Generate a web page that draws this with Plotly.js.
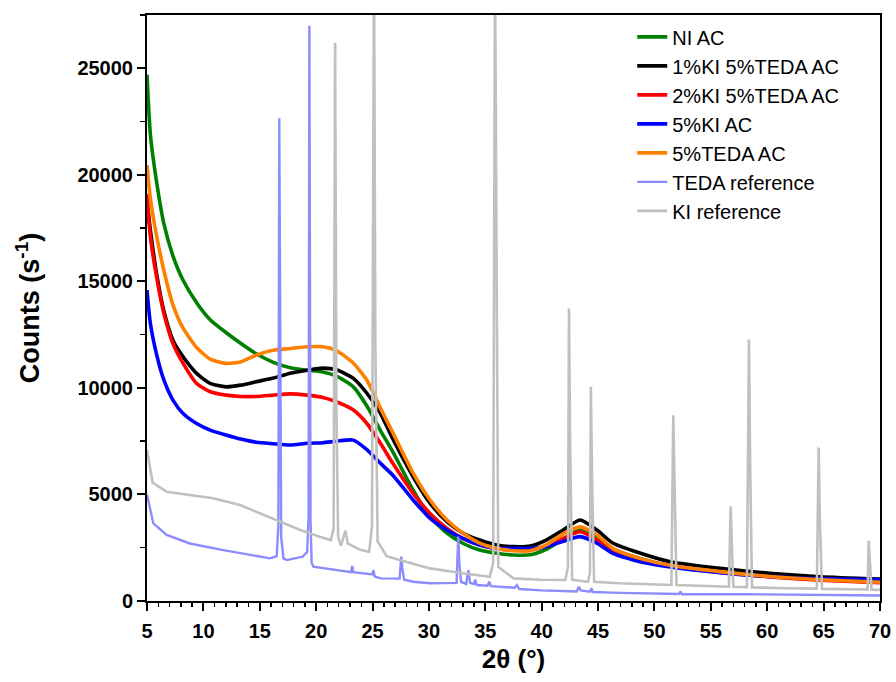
<!DOCTYPE html>
<html>
<head>
<meta charset="utf-8">
<script src="https://cdn.plot.ly/plotly-3.0.1.min.js"></script>
<style>html,body{margin:0;padding:0;background:#fff;}#chart{width:896px;height:682px;}</style>
</head>
<body>
<div id="chart"></div>
<script>
// ---- Data ----
const acX = [5, 5.3, 5.9, 6.5, 7.3, 8.2, 9.4, 10.6, 12, 13.3, 14.7, 16.2, 17.7, 19.2, 20.6, 21.8, 23.3, 24.5, 25.7, 26.8, 28.6, 30.1, 31.6, 33, 34.5, 36, 37.5, 39, 40.4, 41.9, 43.4, 44.9, 46.3, 48.7, 51.4, 55.8, 60.2, 64.7, 70];

const niAC = [24700, 21900, 19500, 17700, 16200, 15050, 14000, 13200, 12600, 12100, 11600, 11200, 10950, 10830, 10750, 10550, 10050, 9150, 8000, 7000, 5200, 3950, 3190, 2710, 2390, 2240, 2160, 2170, 2420, 2900, 3350, 3000, 2450, 2000, 1650, 1350, 1150, 1000, 880];

const ki1teda5 = [18800, 17400, 15200, 13600, 12240, 11460, 10680, 10210, 10050, 10130, 10290, 10460, 10690, 10830, 10930, 10850, 10450, 9750, 8810, 7600, 5830, 4590, 3720, 3190, 2860, 2630, 2550, 2580, 2860, 3330, 3800, 3330, 2720, 2250, 1840, 1530, 1300, 1140, 1030];

const ki2teda5 = [19100, 17090, 15050, 13490, 12080, 11150, 10210, 9820, 9660, 9600, 9600, 9660, 9720, 9660, 9550, 9350, 8960, 8330, 7400, 6460, 5050, 4110, 3410, 2940, 2630, 2470, 2390, 2390, 2580, 2940, 3250, 2860, 2310, 1920, 1640, 1350, 1130, 980, 860];

const ki5 = [14590, 13020, 11460, 10360, 9430, 8800, 8330, 8020, 7790, 7600, 7450, 7380, 7320, 7400, 7430, 7500, 7550, 7100, 6460, 5900, 4740, 3880, 3330, 2940, 2630, 2470, 2470, 2470, 2550, 2800, 3020, 2710, 2240, 1840, 1600, 1330, 1150, 1050, 1000];

const teda5 = [20450, 18900, 17000, 15500, 13900, 12800, 11900, 11350, 11150, 11220, 11540, 11770, 11850, 11930, 11930, 11750, 11160, 10360, 9050, 7900, 6000, 4740, 3800, 3190, 2720, 2470, 2360, 2360, 2630, 3150, 3480, 3100, 2470, 2000, 1680, 1380, 1150, 1000, 880];

const tedaRefX = [5, 5.56, 6.75, 8.8, 11.77, 14.1, 15.9, 16.5, 16.65, 16.73, 16.82, 16.9, 17.1, 17.4, 18.8, 19.2, 19.33, 19.4, 19.5, 19.6, 19.75, 22.1, 23.1, 23.2, 23.3, 25.0, 25.07, 25.2, 25.7, 27.4, 27.55, 27.65, 27.8, 28.6, 30.1, 32.45, 32.6, 32.7, 32.85, 33.3, 33.5, 33.65, 34.0, 34.1, 34.25, 35.2, 35.35, 35.5, 37.6, 37.8, 38.0, 40, 43.1, 43.3, 43.45, 44.3, 44.4, 44.55, 46.9, 52.2, 52.3, 52.45, 58, 70];
const tedaRef = [5000, 3640, 3100, 2700, 2390, 2160, 2000, 2100, 3500, 22650, 9100, 3000, 2000, 1920, 2080, 2300, 4000, 27000, 3800, 1800, 1610, 1450, 1350, 1650, 1350, 1250, 1450, 1150, 1060, 1050, 2080, 1500, 1000, 905, 830, 850, 3020, 1770, 900, 800, 1450, 850, 800, 1000, 750, 720, 905, 700, 620, 750, 560, 500, 450, 670, 500, 440, 600, 420, 380, 330, 440, 320, 320, 260];

const kiRefX = [5, 5.5, 6.75, 8.8, 10.85, 13.25, 15, 16.8, 18.6, 20.3, 21.3, 21.55, 21.68, 21.8, 21.95, 22.2, 22.6, 22.8, 23.9, 24.7, 24.95, 25.13, 25.25, 25.45, 26.25, 27.4, 30.1, 33, 35.4, 35.7, 35.86, 35.98, 36.15, 37.5, 39.9, 42.1, 42.33, 42.42, 42.52, 42.7, 44.1, 44.28, 44.36, 44.47, 44.65, 46.9, 51.5, 51.67, 51.8, 51.95, 56.6, 56.76, 56.86, 57.0, 58.2, 58.38, 58.48, 58.65, 61.7, 64.4, 64.56, 64.66, 64.85, 67.6, 68.9, 69.0, 69.1, 69.25, 70];
const kiRef = [7100, 5550, 5130, 4970, 4820, 4500, 4110, 3720, 3330, 3020, 2860, 3400, 26200, 9000, 3000, 2600, 3300, 2700, 2400, 2300, 3500, 30000, 12000, 2800, 2100, 1920, 1530, 1300, 1140, 1800, 30000, 18000, 1600, 1060, 1000, 985, 1600, 13730, 7400, 1000, 900, 1300, 10050, 5600, 900, 830, 750, 8720, 4660, 750, 670, 4450, 2630, 670, 650, 12270, 6610, 640, 600, 580, 7200, 3920, 570, 550, 540, 2830, 1690, 530, 520];

const seriesNames = ["NI AC", "1%KI 5%TEDA AC", "2%KI 5%TEDA AC", "5%KI AC", "5%TEDA AC", "TEDA reference", "KI reference"];
const xTickVals = [5, 10, 15, 20, 25, 30, 35, 40, 45, 50, 55, 60, 65, 70];
const yTickVals = [0, 5000, 10000, 15000, 20000, 25000];

const FONT = "Arial, 'Liberation Sans', sans-serif";

function acTrace(name, y, color) {
  return {x: acX, y: y, name: name, type: 'scatter', mode: 'lines',
          line: {color: color, width: 3.6, shape: 'spline', smoothing: 0.6}};
}
const traces = [
  acTrace(seriesNames[0], niAC, '#008000'),
  acTrace(seriesNames[1], ki1teda5, '#000000'),
  acTrace(seriesNames[2], ki2teda5, '#ff0000'),
  acTrace(seriesNames[3], ki5, '#0000ff'),
  acTrace(seriesNames[4], teda5, '#ff8000'),
  {x: tedaRefX, y: tedaRef, name: seriesNames[5], type: 'scatter', mode: 'lines',
   line: {color: '#8c8cff', width: 2.4}},
  {x: kiRefX, y: kiRef, name: seriesNames[6], type: 'scatter', mode: 'lines',
   line: {color: '#c0c0c0', width: 2.6}}
];

const layout = {
  width: 896, height: 682,
  margin: {l: 147, r: 16, t: 15, b: 81},
  paper_bgcolor: '#ffffff', plot_bgcolor: '#ffffff',
  font: {family: FONT, color: '#000000'},
  showlegend: true,
  legend: {x: 0.662, y: 0.996, xanchor: 'left', yanchor: 'top',
           font: {family: FONT, size: 20, color: '#000'},
           bgcolor: 'rgba(0,0,0,0)', borderwidth: 0, tracegroupgap: 0},
  xaxis: {
    range: [5, 70], tickvals: xTickVals, ticktext: xTickVals.map(String),
    showgrid: false, zeroline: false,
    showline: true, linecolor: '#000', linewidth: 2, mirror: true,
    ticks: 'outside', ticklen: 8, tickwidth: 2, tickcolor: '#000',
    ticklabelstandoff: 3,
    minor: {dtick: 1, tick0: 5, ticks: 'outside', ticklen: 4, tickwidth: 1.5, tickcolor: '#000', showgrid: false},
    tickfont: {family: FONT, size: 20, weight: 'bold', color: '#000'},
    title: {text: '2θ (°)', font: {family: FONT, size: 26, weight: 'bold', color: '#000'}, standoff: 9}
  },
  yaxis: {
    range: [0, 27500], tickvals: yTickVals, ticktext: yTickVals.map(String),
    showgrid: false, zeroline: false,
    showline: true, linecolor: '#000', linewidth: 2, mirror: true,
    ticks: 'outside', ticklen: 8, tickwidth: 2, tickcolor: '#000',
    minor: {dtick: 2500, tick0: 0, ticks: 'outside', ticklen: 5, tickwidth: 1.5, tickcolor: '#000', showgrid: false},
    tickfont: {family: FONT, size: 20, weight: 'bold', color: '#000'},
    title: {text: 'Counts (s<sup>-1</sup>)', font: {family: FONT, size: 27, weight: 'bold', color: '#000'}, standoff: 30}
  }
};

Plotly.newPlot('chart', traces, layout, {displayModeBar: false, staticPlot: true});
</script>
</body>
</html>
